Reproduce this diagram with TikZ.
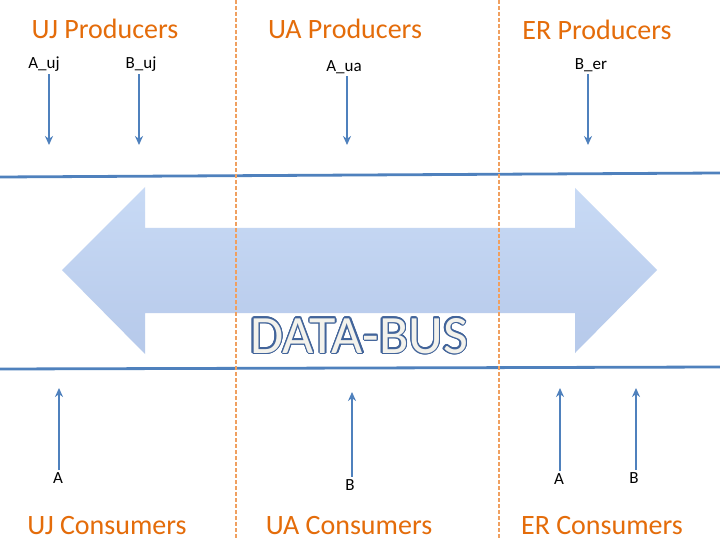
\documentclass[tikz,border=0pt]{standalone}
\usepackage{fontspec}
\setmainfont{Carlito}
\usetikzlibrary{arrows.meta}
\definecolor{busblue}{HTML}{4F81BD}
\definecolor{busorange}{HTML}{E46C0A}
\definecolor{dashorange}{HTML}{F0A060}
\definecolor{bustop}{HTML}{C8DAF5}
\definecolor{busbottom}{HTML}{B6C9EA}
\definecolor{busink}{HTML}{42649A}
\definecolor{buscream}{HTML}{F3F2EC}

\begin{document}
\begin{tikzpicture}[x=1pt,y=-1pt,
  heading/.style={font=\fontsize{28}{32}\selectfont,text=busorange,
                  anchor=base,inner sep=0pt},
  tag/.style={font=\fontsize{17}{20}\selectfont,anchor=base,inner sep=2pt},
  busword/.style={font=\fontsize{54}{60}\selectfont,anchor=base,inner sep=0pt},
  flow/.style={-{Stealth[length=9pt,width=8pt]},line width=2.8pt,draw=busblue},
  rail/.style={line width=2.8pt,draw=busblue},
  divider/.style={dash pattern=on 4pt off 2pt,line width=2pt,draw=dashorange}
]
  \useasboundingbox (0,0) rectangle (720,540);
  \fill[white] (0,0) rectangle (720,540);

  % ---- big double arrow (the bus) ------------------------------
  \shade[top color=bustop,bottom color=busbottom]
    (62,270) -- (145,187) -- (145,228) -- (575,228) -- (575,188)
    -- (657,270) -- (575,353) -- (575,313) -- (145,313) -- (145,354)
    -- cycle;

  % ---- rails and zone dividers ---------------------------------
  \draw[rail] (0,177) -- (720,173);
  \draw[rail] (0,369) -- (720,367);
  \draw[divider] (236,0) -- (236,540);
  \draw[divider] (499,0) -- (499,540);

  % ---- DATA-BUS lettering (outline, then fill) -----------------
  \foreach \ang [count=\i] in {0,22.5,...,337.5}
    \node[busword,text=busink] (dbus-\i) at (359,353)
      [shift={(\ang:1.4)}] {DATA-BUS};
  \node[busword,text=buscream] (dbus) at (359,353) {DATA-BUS};

  % ---- Producers (top) -----------------------------------------
  \node[heading] (puj) at (105,39) {UJ Producers};
  \node[heading] (pua) at (345,39) {UA Producers};
  \node[heading] (per) at (597,40) {ER Producers};

  \node[tag] (auj) at (44,69) {A\_uj};
  \node[tag] (buj) at (141,69) {B\_uj};
  \node[tag] (aua) at (344,72) {A\_ua};
  \node[tag] (ber) at (591,70) {B\_er};

  \coordinate (auj-in) at (49,145);
  \coordinate (buj-in) at (139,145);
  \coordinate (aua-in) at (347,145);
  \coordinate (ber-in) at (588,145);

  \draw[flow] (auj-in |- auj.south) -- (auj-in);
  \draw[flow] (buj-in |- buj.south) -- (buj-in);
  \draw[flow] (aua-in |- aua.south) -- (aua-in);
  \draw[flow] (ber-in |- ber.south) -- (ber-in);

  % ---- Consumers (bottom) --------------------------------------
  \node[heading] (cuj) at (107,534) {UJ Consumers};
  \node[heading] (cua) at (349,534) {UA Consumers};
  \node[heading] (cer) at (602,534) {ER Consumers};

  \node[tag] (uja) at (58,483) {A};
  \node[tag] (uab) at (350,490) {B};
  \node[tag] (era) at (559,484) {A};
  \node[tag] (erb) at (634,483) {B};

  \coordinate (uja-out) at (59,388);
  \coordinate (uab-out) at (352,392);
  \coordinate (era-out) at (560,388);
  \coordinate (erb-out) at (636,388);

  \draw[flow] (uja-out |- uja.north) -- (uja-out);
  \draw[flow] (uab-out |- uab.north) -- (uab-out);
  \draw[flow] (era-out |- era.north) -- (era-out);
  \draw[flow] (erb-out |- erb.north) -- (erb-out);

\end{tikzpicture}
\end{document}
